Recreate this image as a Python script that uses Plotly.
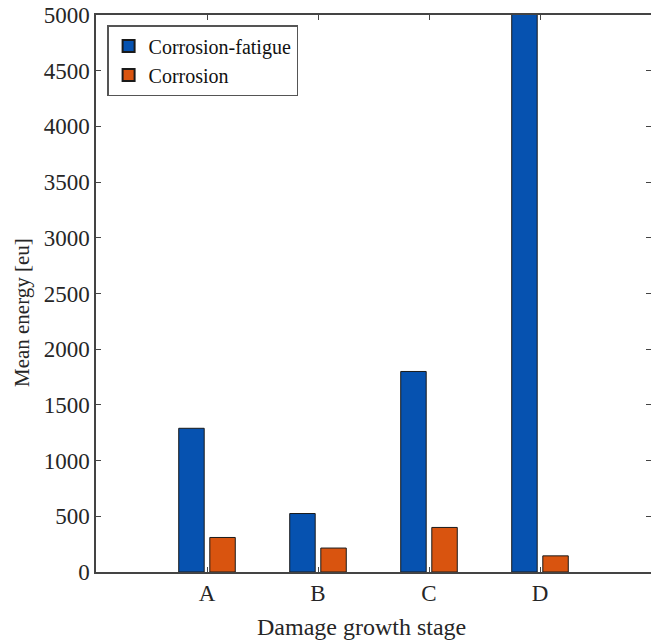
import plotly.graph_objects as go

stages = ["A", "B", "C", "D"]
corrosion_fatigue = [1290, 525, 1800, 5200]
corrosion = [310, 215, 400, 145]
y_ticks = [0, 500, 1000, 1500, 2000, 2500, 3000, 3500, 4000, 4500, 5000]
x_title = "Damage growth stage"
y_title = "Mean energy [eu]"

font_family = "Liberation Serif"
text_color = "#262626"

fig = go.Figure()
fig.add_trace(go.Bar(x=stages, y=corrosion_fatigue, name="Corrosion-fatigue",
                     marker=dict(color="#0652B0", line=dict(color="#1a1a1a", width=1))))
fig.add_trace(go.Bar(x=stages, y=corrosion, name="Corrosion",
                     marker=dict(color="#D9540F", line=dict(color="#1a1a1a", width=1))))

axis_common = dict(showline=True, linecolor="#444444", linewidth=1.5, mirror="ticks",
                   ticks="inside", ticklen=5, tickcolor="#444444", tickwidth=1.2,
                   showgrid=False, zeroline=False, automargin=False,
                   tickfont=dict(family=font_family, size=23, color=text_color))

fig.update_layout(
    width=651, height=641,
    margin=dict(l=96, r=0, t=15, b=69),
    paper_bgcolor="white", plot_bgcolor="white",
    font=dict(family=font_family),
    barmode="group", bargap=0.44, bargroupgap=0.18,
    showlegend=True,
    legend=dict(x=0.02, y=0.982, xanchor="left", yanchor="top",
                bordercolor="#555555", borderwidth=1.5, bgcolor="white",
                font=dict(family=font_family, size=20, color="#111111"),
                tracegroupgap=0, itemsizing="constant"),
    xaxis=dict(range=[-1, 4], **axis_common),
    yaxis=dict(range=[0, 5000], tickvals=y_ticks, ticktext=[str(v) for v in y_ticks],
               **axis_common),
    annotations=[
        dict(text=x_title, xref="paper", yref="paper", x=0.4775, y=-0.0987,
             xanchor="center", yanchor="middle", showarrow=False,
             font=dict(family=font_family, size=24, color=text_color)),
        dict(text=y_title, xref="paper", yref="paper", x=-0.1333, y=0.465,
             xanchor="center", yanchor="middle", showarrow=False, textangle=-90,
             font=dict(family=font_family, size=21, color=text_color)),
    ],
)

fig.write_html("out.html", config={"displayModeBar": False},
               post_script="document.body.style.margin='0';document.body.style.overflow='hidden';")
